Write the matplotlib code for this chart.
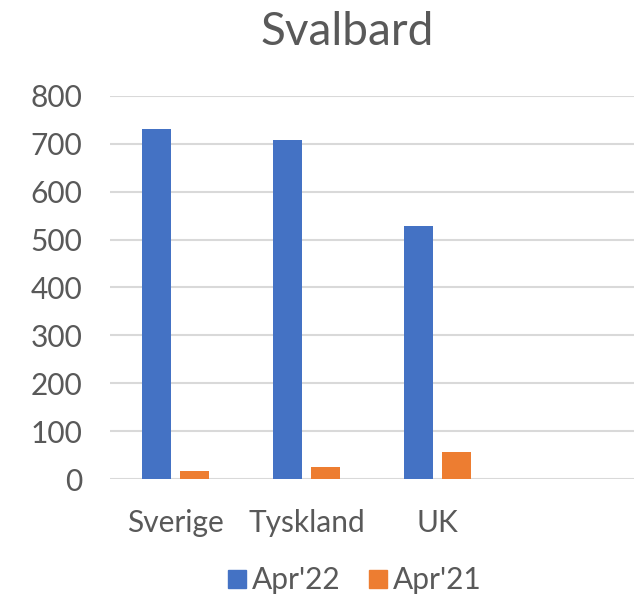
import numpy as np
import matplotlib
matplotlib.use("Agg")
import matplotlib.pyplot as plt
from matplotlib.lines import Line2D

categories = ["Sverige", "Tyskland", "UK", ""]
apr22 = [730, 707, 528, np.nan]
apr21 = [17, 26, 57, np.nan]
series_names = ["Apr'22", "Apr'21"]
colors = ["#4472C4", "#ED7D31"]
text_col = "#595959"

plt.rcParams["font.family"] = ["Lato", "DejaVu Sans"]

fig = plt.figure(figsize=(6.39, 5.99), dpi=100)
ax = fig.add_axes([110 / 639, 0.1998, 524 / 639, 0.6405])

x = np.arange(len(categories))
w = 0.221
off = (w + 0.069) / 2
ax.bar(x - off, apr22, w, color=colors[0], zorder=3)
ax.bar(x + off, apr21, w, color=colors[1], zorder=3)

ax.set_xlim(-0.5, len(categories) - 0.5)
ax.set_ylim(0, 800)
ax.set_yticks(range(0, 801, 100))
ax.set_xticks(x)
ax.set_xticklabels(categories)
ax.grid(axis="y", color="#d9d9d9", lw=1.5, zorder=0)
for s in ax.spines.values():
    s.set_visible(False)
ax.tick_params(length=0, labelsize=21.5, labelcolor=text_col)
ax.tick_params(axis="y", pad=20)
ax.tick_params(axis="x", pad=21.5)

fig.text(347 / 639, 1 - 32 / 599, "Svalbard", fontsize=33, color=text_col,
         ha="center", va="center")

handles = [Line2D([], [], marker="s", ls="", color=c, markersize=13) for c in colors]
fig.legend(handles, series_names, loc="center", bbox_to_anchor=(354 / 639, 1 - 580 / 599),
           ncol=2, frameon=False, fontsize=21.5, labelcolor=text_col,
           handlelength=0.7, handletextpad=0.15, columnspacing=0.9)

fig.savefig("out.png", dpi=100)
